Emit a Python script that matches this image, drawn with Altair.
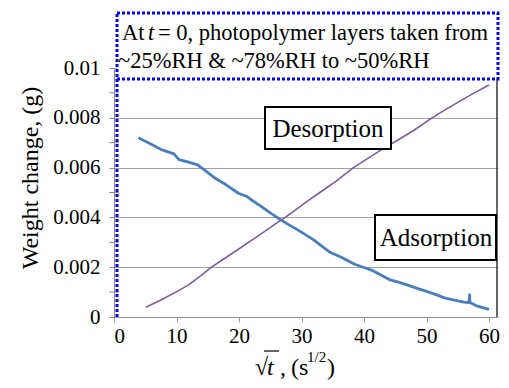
import altair as alt
import pandas as pd

# ---- data ----
blue_x = [3.9, 5.5, 7.7, 9.6, 10.4, 11.5, 13.3, 14.5, 16.2, 18.0, 19.9, 21.2, 22.0, 23.6,
          25.0, 26.7, 28.0, 29.4, 31.0, 32.0, 33.5, 34.7, 36.2, 37.5, 38.5, 39.9, 41.5,
          43.0, 44.2, 45.5, 47.0, 48.5, 50.0, 51.5, 53.0, 54.5, 56.0, 56.8, 56.9, 56.95,
          58.0, 59.0, 60.0]
blue_y = [0.00720, 0.00700, 0.00671, 0.00655, 0.00632, 0.00625, 0.00612, 0.00590, 0.00557,
          0.00530, 0.00497, 0.00485, 0.00470, 0.00443, 0.00418, 0.00390, 0.00370, 0.00350,
          0.00325, 0.00309, 0.00280, 0.00258, 0.00242, 0.00225, 0.00212, 0.00200, 0.00185,
          0.00165, 0.00149, 0.00140, 0.00128, 0.00115, 0.00103, 0.00090, 0.00076, 0.00068,
          0.00060, 0.00058, 0.00090, 0.00058, 0.00045, 0.00038, 0.00031]

purple_x = [5.1, 7.5, 9.9, 12.0, 14.0, 15.6, 17.5, 19.9, 22.0, 24.0, 26.0, 27.4, 29.5,
            31.5, 33.5, 35.5, 38.3, 40.5, 43.0, 45.5, 48.0, 50.3, 52.5, 55.0, 57.5, 60.0]
purple_y = [0.00039, 0.00068, 0.00100, 0.00130, 0.00168, 0.00200, 0.00232, 0.00272,
            0.00308, 0.00342, 0.00377, 0.00400, 0.00438, 0.00475, 0.00510, 0.00545,
            0.00600, 0.00635, 0.00675, 0.00712, 0.00750, 0.00790, 0.00825, 0.00862,
            0.00898, 0.00932]

x_ticks = [0, 10, 20, 30, 40, 50, 60]
y_ticks = [0, 0.002, 0.004, 0.006, 0.008, 0.01]
y_minor = [0.001, 0.003, 0.005, 0.007, 0.009]

FONT = "Liberation Serif"
W, H = 384, 249

df = pd.concat([
    pd.DataFrame({"x": blue_x, "y": blue_y, "s": "blue"}),
    pd.DataFrame({"x": purple_x, "y": purple_y, "s": "purple"}),
], ignore_index=True)

xs = alt.Scale(domain=[0, 61.44], nice=False)
ys = alt.Scale(domain=[0, 0.01], nice=False)

lines = alt.Chart(df).mark_line(strokeJoin="round").encode(
    x=alt.X("x:Q", scale=xs, axis=alt.Axis(values=x_ticks, grid=False, title=None,
                                           labelFont=FONT, labelFontSize=21, labelColor="black",
                                           tickSize=5, labelPadding=3,
                                           domainColor="#9a9a9a", tickColor="#9a9a9a")),
    y=alt.Y("y:Q", scale=ys, axis=alt.Axis(values=y_ticks, format=".3~f", title=None,
                                           grid=True, gridColor="#a0a0a0",
                                           labelFont=FONT, labelFontSize=21, labelColor="black",
                                           tickSize=5, labelPadding=9,
                                           domainColor="#8a8a8a", tickColor="#8a8a8a")),
    color=alt.Color("s:N", scale=alt.Scale(domain=["blue", "purple"],
                                           range=["#4a7ebb", "#7d5fa0"]), legend=None),
    strokeWidth=alt.StrokeWidth("s:N", scale=alt.Scale(domain=["blue", "purple"],
                                                       range=[2.8, 1.6]), legend=None),
    detail="s:N",
)

minor = alt.Chart(pd.DataFrame({"y": y_minor})).mark_rule(color="#8a8a8a").encode(
    y=alt.Y("y:Q", scale=ys), x=alt.value(-5), x2=alt.value(5))

right_border = alt.Chart(pd.DataFrame({"a": [0]})).mark_rule(color="#333333", strokeWidth=1.5).encode(
    x=alt.value(W - 1), y=alt.value(0), y2=alt.value(H))


def box(x1, x2, y1, y2, **kw):
    return alt.Chart(pd.DataFrame({"a": [0]})).mark_rect(**kw).encode(
        x=alt.value(x1), x2=alt.value(x2), y=alt.value(y1), y2=alt.value(y2))


def label(txt, x, y, size, align="left", baseline="alphabetic", **kw):
    return alt.Chart(pd.DataFrame({"t": [txt]})).mark_text(
        font=FONT, fontSize=size, align=align, baseline=baseline, color="black", **kw
    ).encode(x=alt.value(x), y=alt.value(y), text="t:N")


des_box = box(151, 277, 39, 81, fill="white", stroke="black", strokeWidth=2)
ads_box = box(261, 382, 147, 192, fill="white", stroke="black", strokeWidth=2)
des_txt = label("Desorption", 214, 61, 25, align="center", baseline="middle")
ads_txt = label("Adsorption", 322, 170, 25, align="center", baseline="middle")

note_box = box(3, 384, -55, 11, fill="white", stroke="#0000ff", strokeWidth=3, strokeDash=[3, 2])
note_left = alt.Chart(pd.DataFrame({"a": [0]})).mark_rule(
    color="#0000ff", strokeWidth=3, strokeDash=[3, 2]).encode(
    x=alt.value(3), y=alt.value(11), y2=alt.value(H))
n1 = label("At", 8, -28, 22.5)
n2 = label("t", 34, -28, 22.5, fontStyle="italic")
n3 = label("= 0, photopolymer layers taken from", 44, -28, 22.5)
n4 = label("~25%RH & ~78%RH to ~50%RH", 4, 0, 22.5)

# axis titles
ytitle = label("Weight change, (g)", -83, 110, 24, align="center", baseline="middle", angle=270)
BL = 307
t1 = label("\u221a", 141, BL, 24)
t2 = label("t", 153, BL, 24, fontStyle="italic")
overline = alt.Chart(pd.DataFrame({"a": [0]})).mark_rule(color="black", strokeWidth=1.2).encode(
    x=alt.value(150), x2=alt.value(165), y=alt.value(BL - 24))
t3 = label(",", 166, BL, 24)
t4 = label("(s", 177, BL, 24)
t5 = label("1/2", 193, BL - 13, 15)
t6 = label(")", 213, BL, 24)

chart = alt.layer(
    lines, minor, right_border, des_box, ads_box, des_txt, ads_txt,
    note_box, note_left, n1, n2, n3, n4, ytitle, t1, t2, overline, t3, t4, t5, t6
).properties(
    width=W, height=H,
    autosize=alt.AutoSizeParams(type="none"),
    padding={"left": 106, "top": 60, "right": 3, "bottom": 63},
).configure_view(stroke=None)

chart.save("out.html", embed_options={"renderer": "svg", "actions": False})
